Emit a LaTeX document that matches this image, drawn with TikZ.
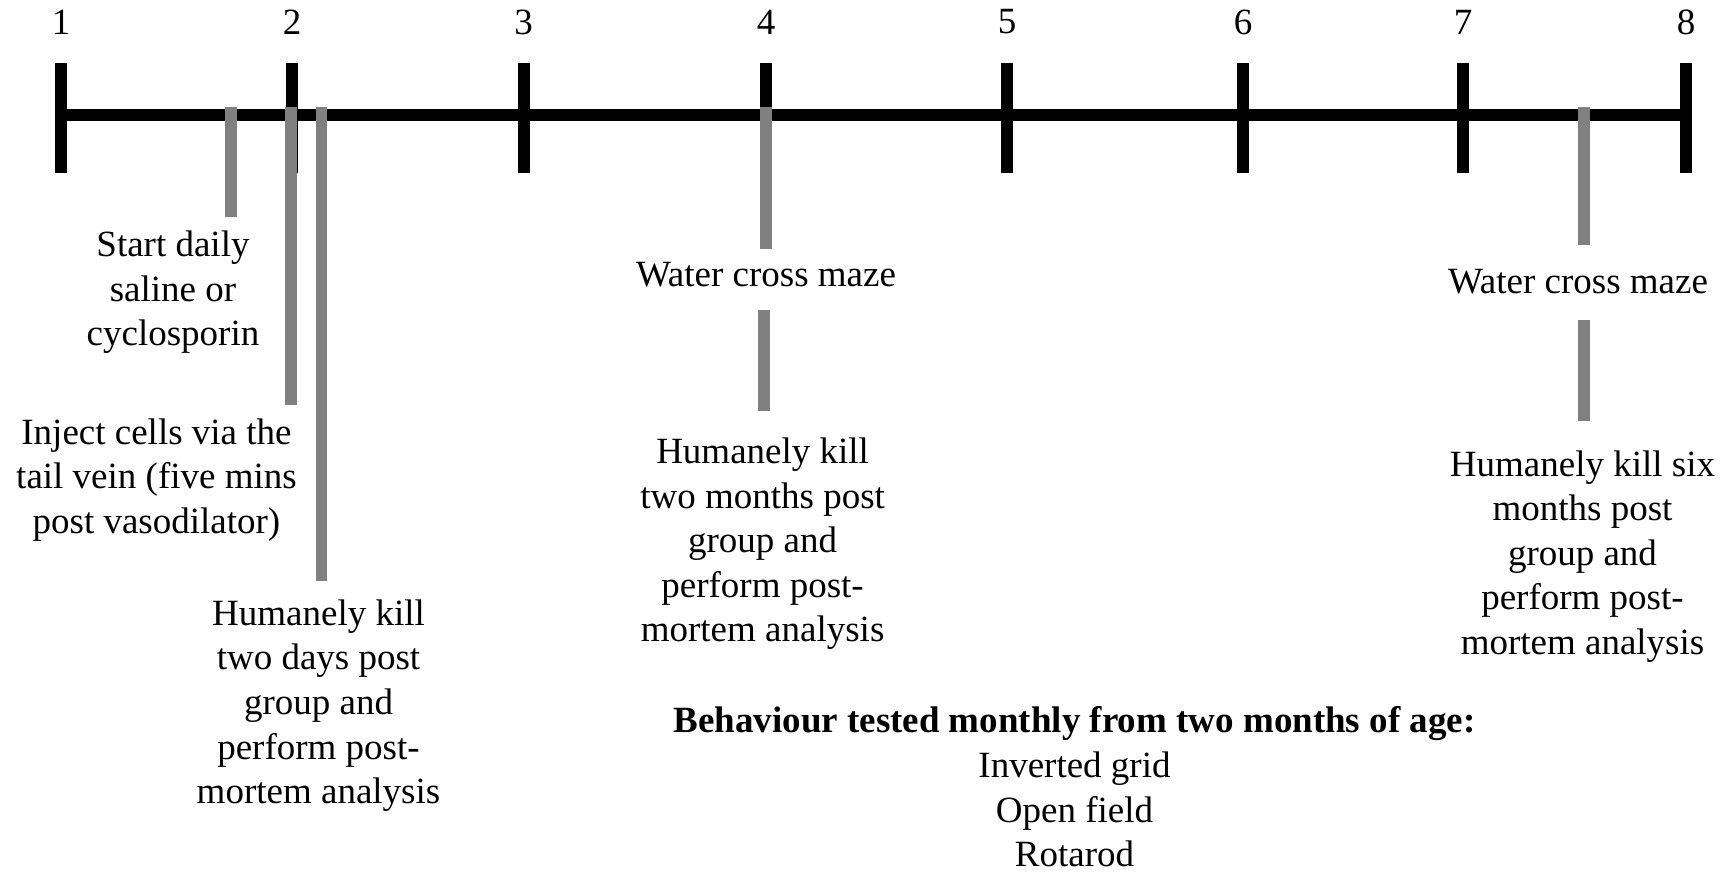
\documentclass[tikz,border=0pt]{standalone}
\usepackage{fontspec}
\setmainfont{Liberation Serif}
\definecolor{bargray}{RGB}{128,128,128}
\begin{document}
\begin{tikzpicture}[x=0.5pt,y=-0.5pt,
  axisline/.style={line width=6pt,black},
  bar/.style={line width=5.6pt,draw=bargray},
  lbl/.style={font=\fontsize{18.5}{22.3}\selectfont,align=center,inner sep=0pt},
  num/.style={font=\fontsize{18.5}{22.3}\selectfont,inner sep=0pt}]
\useasboundingbox (0,0) rectangle (1728,872);
% axis
\coordinate (a1) at (61,115);
\coordinate (a8) at (1686,115);
\draw[axisline] (a1) -- (a8);
\foreach \i/\x in {1/61,2/292,3/523.5,4/766,5/1007,6/1243,7/1463,8/1686} {
  \coordinate (tt\i) at (\x,63);
  \coordinate (tb\i) at (\x,173);
  \node[num] (n\i) at (\x,22) {\i};
  \draw[axisline] (tt\i) -- (tb\i);
}
% gray marker bars
\coordinate (b1t) at (231,107); \coordinate (b1b) at (231,217);
\coordinate (b2t) at (291,107); \coordinate (b2b) at (291,405);
\coordinate (b3t) at (321.5,107); \coordinate (b3b) at (321.5,581);
\coordinate (b4t) at (766,107); \coordinate (b4b) at (766,249);
\coordinate (b5t) at (764,310); \coordinate (b5b) at (764,411);
\coordinate (b6t) at (1584,107); \coordinate (b6b) at (1584,245);
\coordinate (b7t) at (1584,320); \coordinate (b7b) at (1584,421);
\foreach \k in {1,...,7} { \draw[bar] (b\k t) -- (b\k b); }
% labels
\node[lbl] (start) at (173,292.4) {Start daily\\saline or\\cyclosporin};
\node[lbl] (inject) at (156.5,479.9) {Inject cells via the\\tail vein (five mins\\post vasodilator)};
\node[lbl] (kill2d) at (318.5,705.7) {Humanely kill\\two days post\\group and\\perform post-\\mortem analysis};
\node[lbl] (wcm1) at (766,274.2) {Water cross maze};
\node[lbl] (kill2m) at (762.6,543.8) {Humanely kill\\two months post\\group and\\perform post-\\mortem analysis};
\node[lbl] (wcm2) at (1578,282) {Water cross maze};
\node[lbl] (kill6m) at (1582.5,556.4) {Humanely kill six\\months post\\group and\\perform post-\\mortem analysis};
\node[lbl] (behav) at (1074.5,787) {\textbf{Behaviour tested monthly from two months of age:}\\Inverted grid\\Open field\\Rotarod};
\end{tikzpicture}
\end{document}
